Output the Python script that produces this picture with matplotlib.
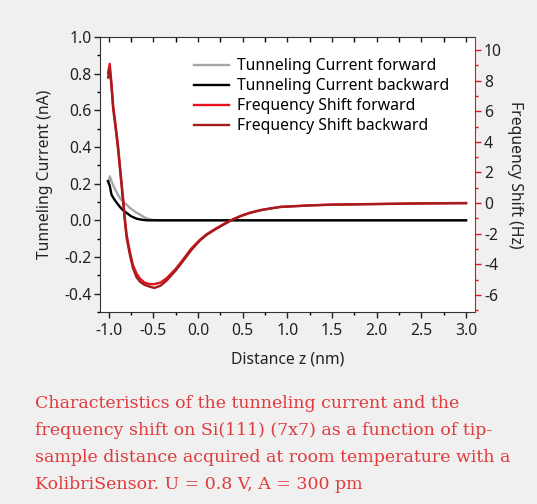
import matplotlib
matplotlib.use("Agg")
import matplotlib.pyplot as plt
from matplotlib.ticker import MultipleLocator

plt.rcParams['font.family'] = ['Noto Sans', 'DejaVu Sans']
plt.rcParams['axes.unicode_minus'] = False

# tunneling current (nA) vs distance z (nm)
z_tc_fwd = [-1.0, -0.99, -0.97, -0.95, -0.92, -0.88, -0.84, -0.8, -0.765, -0.7,
            -0.65, -0.6, -0.54, -0.5, -0.45, -0.4, 0.0, 1.0, 2.0, 3.0]
tc_fwd = [0.2, 0.24, 0.215, 0.19, 0.16, 0.125, 0.1, 0.085, 0.068, 0.045,
          0.031, 0.016, 0.005, 0.002, 0.001, 0.0, 0.0, 0.0, 0.0, 0.0]

z_tc_bwd = [-1.01, -0.99, -0.97, -0.94, -0.91, -0.87, -0.84, -0.8, -0.75, -0.69,
            -0.63, -0.57, 0.0, 1.0, 2.0, 3.0]
tc_bwd = [0.214, 0.19, 0.14, 0.115, 0.095, 0.07, 0.055, 0.04, 0.022, 0.009,
          0.003, 0.0, 0.0, 0.0, 0.0, 0.0]

# frequency shift (Hz) vs distance z (nm)
z_fs = [-1.008, -0.99, -0.97, -0.952, -0.92, -0.896, -0.87, -0.84, -0.82, -0.8,
        -0.76, -0.73, -0.69, -0.65, -0.6, -0.54, -0.49, -0.42, -0.35, -0.25,
        -0.17, -0.08, 0.02, 0.1, 0.2, 0.3, 0.39, 0.48, 0.58, 0.7, 0.8, 0.92,
        1.25, 1.5, 2.0, 2.5, 3.0]
fs_fwd = [8.5, 9.1, 7.8, 6.4, 4.9, 3.7, 2.1, 0.3, -1.0, -2.1,
          -3.3, -4.05, -4.6, -4.95, -5.2, -5.3, -5.3, -5.2, -4.9, -4.3,
          -3.7, -3.0, -2.4, -2.02, -1.66, -1.33, -1.06, -0.83, -0.63, -0.46, -0.36, -0.25,
          -0.15, -0.1, -0.06, -0.02, 0.0]
fs_bwd = [8.2, 8.8, 7.6, 6.2, 4.7, 3.5, 1.9, 0.1, -1.2, -2.3,
          -3.5, -4.25, -4.85, -5.15, -5.35, -5.47, -5.55, -5.4, -5.05, -4.4,
          -3.8, -3.1, -2.45, -2.06, -1.7, -1.36, -1.08, -0.85, -0.65, -0.47, -0.37, -0.26,
          -0.16, -0.11, -0.07, -0.03, -0.01]

fig = plt.figure(figsize=(5.37, 5.04), dpi=100, facecolor='#f0f0f0')
ax = fig.add_axes([0.186, 0.381, 0.6985, 0.5456])
ax.set_facecolor('white')
ax2 = ax.twinx()

l1, = ax.plot(z_tc_fwd, tc_fwd, color='#a6a6a6', lw=1.7, label='Tunneling Current forward')
l2, = ax.plot(z_tc_bwd, tc_bwd, color='black', lw=1.7, label='Tunneling Current backward')
l3, = ax2.plot(z_fs, fs_fwd, color='#e8101c', lw=1.7, label='Frequency Shift forward')
l4, = ax2.plot(z_fs, fs_bwd, color='#a31d1f', lw=1.7, label='Frequency Shift backward')

ax.set_xlim(-1.1, 3.1)
ax.set_ylim(-0.5, 1.0)
ax2.set_ylim(-7.12, 10.85)

ax.xaxis.set_major_locator(MultipleLocator(0.5))
ax.xaxis.set_minor_locator(MultipleLocator(0.25))
ax.yaxis.set_minor_locator(MultipleLocator(0.1))
ax.set_yticks([-0.4, -0.2, 0.0, 0.2, 0.4, 0.6, 0.8, 1.0])
ax.set_yticklabels(['-0.4', '-0.2', '0.0', '0.2', '0.4', '0.6', '0.8', '1.0'])
ax2.yaxis.set_major_locator(MultipleLocator(2))
ax2.yaxis.set_minor_locator(MultipleLocator(1))

fs = 11.3
ax.tick_params(axis='both', which='major', direction='out', length=4, width=1,
               labelsize=fs, colors='#222222', pad=2)
ax.tick_params(axis='both', which='minor', direction='out', length=2.2, width=1)
ax.tick_params(axis='x', which='both', top=True)
ax.tick_params(axis='x', which='major', pad=4)
ax2.tick_params(axis='y', which='major', direction='out', length=4, width=1,
                color='#e8101c', labelsize=fs, labelcolor='#222222', pad=2.5)
ax2.tick_params(axis='y', which='minor', direction='out', length=2.2, width=1,
                color='#e8101c')

for s in ['top', 'left', 'bottom']:
    ax.spines[s].set_color('#333333')
ax2.spines['right'].set_color('#e8101c')
ax2.spines['left'].set_visible(False)
ax2.spines['top'].set_visible(False)
ax2.spines['bottom'].set_visible(False)
ax.spines['right'].set_visible(False)

# top ticks point inward
for t in ax.xaxis.get_major_ticks() + ax.xaxis.get_minor_ticks():
    t.tick2line.set_marker(3)
    t.tick2line.set_markersize(3.5)

ax.set_xlabel('Distance z (nm)', fontsize=fs, labelpad=9, color='#222222')
ax.set_ylabel('Tunneling Current (nA)', fontsize=fs, labelpad=8, color='#222222')
ax2.set_ylabel('Frequency Shift (Hz)', fontsize=fs, rotation=270, labelpad=15,
               color='#222222')

ax.legend(handles=[l1, l2, l3, l4], loc='upper right', frameon=False, fontsize=fs,
          handlelength=2.2, handletextpad=0.55, labelspacing=0.26,
          bbox_to_anchor=(0.97, 0.975))

caption = ("Characteristics of the tunneling current and the\n"
           "frequency shift on Si(111) (7x7) as a function of tip-\n"
           "sample distance acquired at room temperature with a\n"
           "KolibriSensor. U = 0.8 V, A = 300 pm")
fig.text(0.065, 1 - 395 / 504, caption, ha='left', va='top', fontsize=12.5,
         family=['DejaVu Serif'], color='#e03a3c', linespacing=1.77)

fig.savefig('out.png', dpi=100, facecolor=fig.get_facecolor())
